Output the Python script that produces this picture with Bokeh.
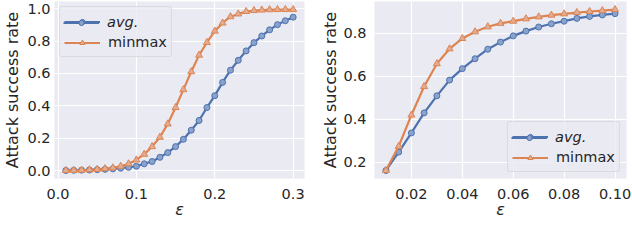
from bokeh.plotting import figure
from bokeh.models import Legend, LegendItem, FixedTicker, Range1d, NumeralTickFormatter
from bokeh.layouts import row
from bokeh.embed import file_html
from bokeh.resources import INLINE

# ---------------- data ----------------
eps_left = [0.01, 0.02, 0.03, 0.04, 0.05, 0.06, 0.07, 0.08, 0.09, 0.10,
            0.11, 0.12, 0.13, 0.14, 0.15, 0.16, 0.17, 0.18, 0.19, 0.20,
            0.21, 0.22, 0.23, 0.24, 0.25, 0.26, 0.27, 0.28, 0.29, 0.30]
avg_left = [0.002, 0.003, 0.004, 0.005, 0.007, 0.009, 0.012, 0.016, 0.021, 0.028,
            0.043, 0.057, 0.083, 0.112, 0.149, 0.194, 0.25, 0.31, 0.39, 0.463,
            0.545, 0.62, 0.681, 0.739, 0.79, 0.831, 0.869, 0.901, 0.925, 0.947]
minmax_left = [0.002, 0.003, 0.004, 0.006, 0.009, 0.013, 0.018, 0.028, 0.043, 0.067,
               0.102, 0.149, 0.207, 0.289, 0.39, 0.50, 0.611, 0.713, 0.791, 0.861,
               0.911, 0.950, 0.967, 0.982, 0.988, 0.991, 0.993, 0.994, 0.994, 0.994]

eps_right = [0.010, 0.015, 0.020, 0.025, 0.030, 0.035, 0.040, 0.045, 0.050, 0.055,
             0.060, 0.065, 0.070, 0.075, 0.080, 0.085, 0.090, 0.095, 0.100]
avg_right = [0.163, 0.248, 0.337, 0.430, 0.509, 0.582, 0.635, 0.681, 0.725, 0.758,
             0.787, 0.809, 0.828, 0.843, 0.855, 0.868, 0.877, 0.884, 0.890]
minmax_right = [0.163, 0.275, 0.420, 0.552, 0.658, 0.727, 0.775, 0.806, 0.829, 0.845,
                0.855, 0.866, 0.875, 0.883, 0.889, 0.895, 0.900, 0.904, 0.909]

left_xticks = [0.0, 0.1, 0.2, 0.3]
left_yticks = [0.0, 0.2, 0.4, 0.6, 0.8, 1.0]
right_xticks = [0.02, 0.04, 0.06, 0.08, 0.10]
right_yticks = [0.2, 0.4, 0.6, 0.8]

series_names = ["avg.", "minmax"]
ylabel = "Attack success rate"
xlabel = "\u03b5"

# ---------------- style ----------------
BLUE = "#4c72b0"
ORANGE = "#dd8452"
BLUE_FACE = "#8ba2ca"
ORANGE_FACE = "#e2ad92"
BG = "#eaeaf2"
FONT = "DejaVu Sans"
TICK_FS = "14.5px"
LABEL_FS = "16px"

PAD = 4
ROW_H = 20
SPACING = 1
MAIN_H = 2 * PAD + 2 * ROW_H + SPACING
ITAL_H = 2 * PAD + ROW_H


def margins(vals, frac=0.05):
    lo, hi = min(vals), max(vals)
    d = (hi - lo) * frac
    return lo - d, hi + d


def make_panel(xs, a, m, xticks, yticks, xfmt, yfmt, width, border_left, border_right,
               ylab_standoff, ytick_standoff, legend_left, legend_top):
    p = figure(width=width, height=222, output_backend="svg", toolbar_location=None,
               min_border_left=border_left, min_border_right=border_right,
               min_border_top=1, min_border_bottom=44)
    x0, x1 = margins(xs)
    y0, y1 = margins(a + m)
    p.x_range = Range1d(x0, x1)
    p.y_range = Range1d(y0, y1)
    p.background_fill_color = BG
    p.border_fill_color = "white"
    p.outline_line_color = None

    for ax in (p.xaxis[0], p.yaxis[0]):
        ax.axis_line_color = None
        ax.major_tick_line_color = None
        ax.minor_tick_line_color = None
        ax.major_tick_out = 0
        ax.major_tick_in = 0
        ax.minor_tick_out = 0
        ax.major_label_text_font = FONT
        ax.major_label_text_font_size = TICK_FS
        ax.major_label_text_color = "#262626"
        ax.axis_label_text_font = FONT
        ax.axis_label_text_font_size = LABEL_FS
        ax.axis_label_text_color = "#262626"

    p.xaxis[0].ticker = FixedTicker(ticks=xticks)
    p.yaxis[0].ticker = FixedTicker(ticks=yticks)
    p.xaxis[0].formatter = NumeralTickFormatter(format=xfmt)
    p.yaxis[0].formatter = NumeralTickFormatter(format=yfmt)
    p.xaxis[0].axis_label = xlabel
    p.xaxis[0].axis_label_text_font_style = "italic"
    p.xaxis[0].major_label_standoff = 10
    p.xaxis[0].axis_label_standoff = -2
    p.yaxis[0].axis_label = ylabel
    p.yaxis[0].axis_label_text_font_style = "normal"
    p.yaxis[0].major_label_standoff = ytick_standoff
    p.yaxis[0].axis_label_standoff = ylab_standoff

    p.xgrid.ticker = FixedTicker(ticks=xticks)
    p.ygrid.ticker = FixedTicker(ticks=yticks)
    p.xgrid.grid_line_color = "white"
    p.ygrid.grid_line_color = "white"
    p.xgrid.grid_line_width = 1.2
    p.ygrid.grid_line_width = 1.2

    l1 = p.line(xs, a, line_color=BLUE, line_width=2.2)
    s1 = p.scatter(xs, a, marker="circle", size=6, fill_color=BLUE_FACE,
                   line_color=BLUE, line_width=1)
    l2 = p.line(xs, m, line_color=ORANGE, line_width=2.2)
    s2 = p.scatter(xs, m, marker="triangle", size=7, fill_color=ORANGE_FACE,
                   line_color=ORANGE, line_width=1)

    common = dict(padding=PAD, spacing=SPACING, label_height=ROW_H,
                  glyph_height=13, glyph_width=36, label_standoff=8,
                  label_text_font=FONT, label_text_font_size=TICK_FS,
                  label_text_color="#262626")
    main = Legend(items=[LegendItem(label=" ", renderers=[l1, s1]),
                         LegendItem(label=series_names[1], renderers=[l2, s2])],
                  location=(legend_left, legend_top - MAIN_H),
                  background_fill_color=BG, background_fill_alpha=0.8,
                  border_line_color="#cccccc", border_line_width=1,
                  border_radius=3, **common)
    ital = Legend(items=[LegendItem(label=series_names[0], renderers=[l1, s1])],
                  location=(legend_left, legend_top - ITAL_H),
                  background_fill_alpha=0, border_line_alpha=0,
                  label_text_font_style="italic", **common)
    p.add_layout(main)
    p.add_layout(ital)
    return p


p1 = make_panel(eps_left, avg_left, minmax_left, left_xticks, left_yticks,
                "0.0", "0.0", 316, 52, 12, 2, 4, 5, 170)
p2 = make_panel(eps_right, avg_right, minmax_right, right_xticks, right_yticks,
                "0.00", "0.0", 316, 58, 6, 0, 8, 133, 55)

layout = row(p1, p2)

open("out.html", "w").write(file_html(layout, INLINE))
